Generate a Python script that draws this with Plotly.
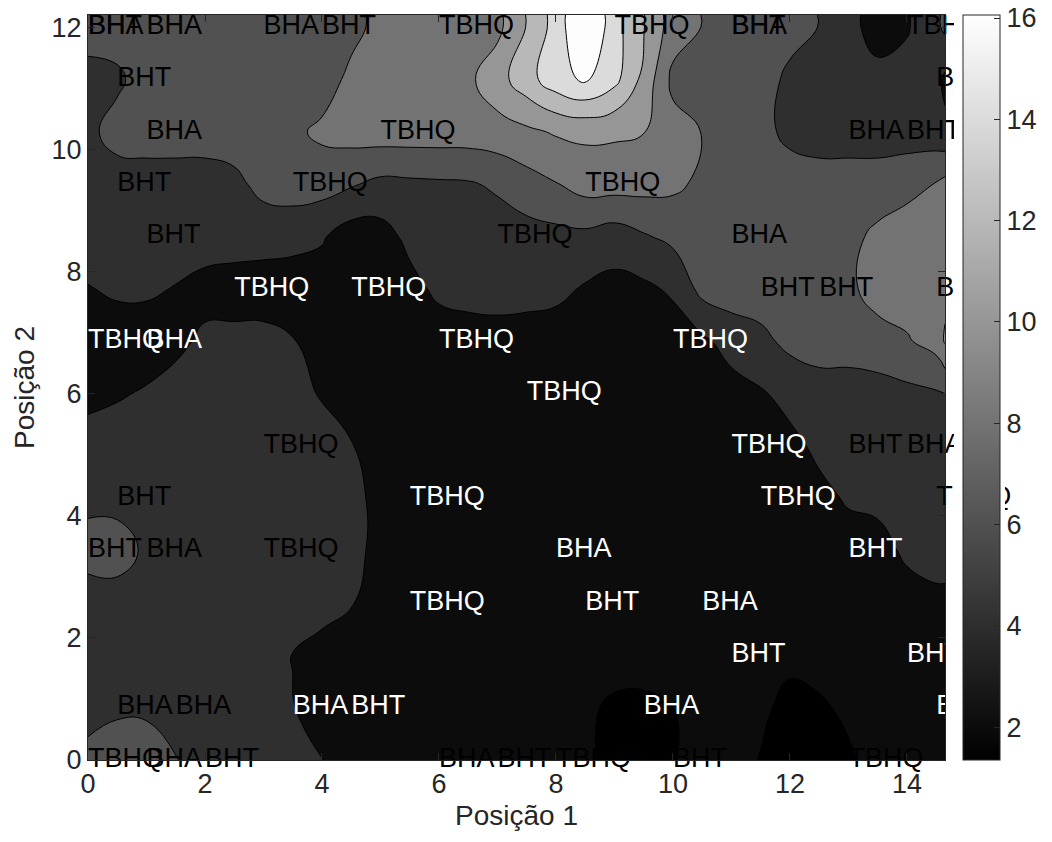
import plotly.graph_objects as go

# ---------------- data ----------------
x_pos = [0, 0.5, 1, 1.5, 2, 2.5, 3, 3.5, 4, 4.5, 5, 5.5, 6, 6.5, 7, 7.5,
         8, 8.5, 9, 9.5, 10, 10.5, 11, 11.5, 12, 12.5, 13, 13.5, 14, 14.5, 14.65]
y_pos = [0, 0.857, 1.714, 2.571, 3.429, 4.286, 5.143, 6.0, 6.857, 7.714,
         8.571, 9.429, 10.286, 11.143, 12.0, 12.2]

z_y0 = [6.8, 8.0, 7.8, 6.1, 5, 5, 5, 5, 4.05, 3, 3, 3, 3, 3, 3, 3, 3, 2.3, 1.5, 1.5, 1.9, 2.6, 2.8, 1.9, 1.5, 1.5, 1.7, 2.8, 3, 3, 3]
z_y1 = [5, 5.4, 5.4, 5, 5, 5, 5, 4.1, 3, 3, 3, 3, 3, 3, 3, 3, 3, 2.4, 1.6, 1.5, 2.0, 2.6, 3, 2.4, 1.4, 1.7, 2.4, 3, 3, 3, 3]
z_y2 = [5, 5, 5, 5, 5, 5, 4.9, 3.95, 3, 3, 3, 3, 3, 3, 3, 3, 3, 3, 3, 3, 3, 3, 3, 3, 2.5, 2.8, 3, 3, 3, 3, 3]
z_y3 = [5, 5, 5, 5, 5, 5, 5, 5, 5, 4.1, 3.2, 3, 3, 3, 3, 3, 3, 3, 3, 3, 3, 3, 3, 3, 3, 3, 3, 3.3, 3.3, 3.4, 3.4]
z_y4 = [6.8, 7.0, 5.6, 5, 5, 5, 5, 5, 5, 4.5, 3.5, 3, 3, 3, 3, 3, 3, 3, 3, 3, 3, 3, 3, 3, 3, 3, 3.2, 3.4, 4.3, 5, 5]
z_y5 = [5.5, 5.3, 5, 5, 5, 5, 5, 5, 5, 4.5, 3.5, 3, 3, 3, 3, 3, 3, 3, 3, 3, 3, 3, 3, 3, 3, 3.5, 4.2, 4.4, 5, 5, 5]
z_y6 = [4.6, 5, 5, 5, 5, 5, 5, 5, 5, 4.1, 3.2, 3, 3, 3, 3, 3, 3, 3, 3, 3, 3, 3, 3, 3, 3.5, 4.4, 5, 5, 5, 5, 5]
z_y7 = [3.6, 3.8, 4.2, 4.8, 5, 5, 5, 4.8, 3.8, 3, 3, 3, 3, 3, 3, 3, 3, 3, 3, 3, 3, 3, 3.2, 3.8, 4.6, 5, 5, 5.2, 5.5, 5.8, 6.0]
z_y8 = [3, 3, 3, 3.5, 4.4, 4.6, 4.6, 4.1, 3.2, 3, 3, 3, 3, 3, 3, 3, 3, 3, 3, 3, 3, 3.6, 4.8, 5.5, 6.5, 7, 7, 7.2, 7.8, 8.8, 10.2]
z_y9 = [3.9, 4.3, 4.3, 3.9, 3.3, 3, 3, 3, 3, 3, 3, 3.4, 4.4, 4.8, 5, 4.8, 4.5, 3.8, 3.4, 3.6, 4.3, 6.6, 7, 7, 7, 7, 7.6, 8.8, 9, 9, 9.6]
z_y10 = [5, 5, 5, 5, 5, 5, 4.8, 4.6, 4.2, 3.0, 3.2, 4.5, 5, 5, 5, 5.2, 5.4, 5.5, 5.0, 5.8, 6.5, 7, 7, 7, 7, 7, 7.5, 8.4, 9, 9, 9]
z_y11 = [5, 5, 5, 5, 5, 5.5, 6.6, 7, 6.8, 6.2, 5.5, 5.6, 5.7, 5.8, 6.3, 7.2, 7.9, 8.8, 8.8, 8.7, 8.4, 7.6, 7, 7, 7, 7, 7, 7, 7.4, 8.1, 8.6]
z_y12 = [5.5, 6.8, 7, 7, 7, 7, 7, 7.6, 8.4, 8.8, 9, 9, 9, 9, 9.2, 9.6, 10.2, 10.4, 10.3, 10.05, 8.8, 7.95, 7, 6.6, 5.5, 5, 5, 5, 5, 4.8, 4.4]
z_y13 = [5.2, 5.6, 7, 7, 7, 7, 7, 7, 7, 8.5, 9, 9, 9, 9.6, 11.2, 13.2, 15.2, 16.3, 14.6, 11.4, 7.5, 7, 7, 7, 5.5, 5, 5, 4.6, 4.8, 4.6, 3.6]
z_y14 = [7, 7, 7, 7, 7, 7, 7, 7, 7, 7.4, 8.6, 9, 9, 9.2, 9.5, 12.1, 14.8, 18.5, 14.8, 12.1, 9, 7.95, 7, 7, 6.8, 5.95, 4.6, 3.2, 3.8, 5.6, 6.4]
z_y15 = [7, 7, 7, 7, 7, 7, 7, 7, 7, 7.4, 8.6, 9, 9, 9.2, 9.5, 12.1, 14.8, 18.5, 14.8, 12.1, 9, 7.95, 7, 7, 6.8, 5.95, 4.6, 3.2, 3.8, 5.6, 6.4]

z_grid = [z_y0, z_y1, z_y2, z_y3, z_y4, z_y5, z_y6, z_y7, z_y8, z_y9,
          z_y10, z_y11, z_y12, z_y13, z_y14, z_y15]

# sample labels (x, y, name)
label_x = [0, 0, 1, 3, 4, 6, 9, 11, 11, 14,
           0.5, 14.5,
           1, 5, 13, 14,
           0.5, 3.5, 8.5,
           1, 7, 11,
           2.5, 4.5, 11.5, 12.5, 14.5,
           0, 1, 6, 10,
           7.5,
           3, 11, 13, 14,
           0.5, 5.5, 11.5, 14.5,
           0, 1, 3, 8, 13,
           5.5, 8.5, 10.5,
           11, 14,
           0.5, 1.5, 3.5, 4.5, 9.5, 14.5,
           0, 1, 2, 6, 7, 8, 10, 13]
label_y = [12.0] * 10 + [11.143] * 2 + [10.286] * 4 + [9.429] * 3 + [8.571] * 3 + \
          [7.714] * 5 + [6.857] * 4 + [6.0] + [5.143] * 4 + [4.286] * 4 + \
          [3.429] * 5 + [2.571] * 3 + [1.714] * 2 + [0.857] * 6 + [0] * 8
label_text = ["BHT", "BHA", "BHA", "BHA", "BHT", "TBHQ", "TBHQ", "BHA", "BHT", "TBHQ",
              "BHT", "BHT",
              "BHA", "TBHQ", "BHA", "BHT",
              "BHT", "TBHQ", "TBHQ",
              "BHT", "TBHQ", "BHA",
              "TBHQ", "TBHQ", "BHT", "BHT", "BHT",
              "TBHQ", "BHA", "TBHQ", "TBHQ",
              "TBHQ",
              "TBHQ", "TBHQ", "BHT", "BHA",
              "BHT", "TBHQ", "TBHQ", "TBHQ",
              "BHT", "BHA", "TBHQ", "BHA", "BHT",
              "TBHQ", "BHT", "BHA",
              "BHT", "BHT",
              "BHA", "BHA", "BHA", "BHT", "BHA", "BHA",
              "TBHQ", "BHA", "BHT", "BHA", "BHT", "TBHQ", "BHT", "TBHQ"]
B, W = "black", "white"
label_color = [B] * 10 + [B] * 2 + [B] * 4 + [B] * 3 + [B] * 3 + \
              [W, W, B, B, B] + [W] * 4 + [W] + [B, W, B, B] + [B, W, W, B] + \
              [B, B, B, W, W] + [W] * 3 + [W] * 2 + [B, B, W, W, W, W] + [B] * 8

level_start, level_end, level_step = 2, 16, 2
cbar_min, cbar_max = 1.35, 16.06
cbar_ticks = [2, 4, 6, 8, 10, 12, 14, 16]
x_ticks = [0, 2, 4, 6, 8, 10, 12, 14]
y_ticks = [0, 2, 4, 6, 8, 10, 12]

# ---------------- layout geometry (pixels) ----------------
W_FIG, H_FIG = 1052, 842
L, R, T, Bm = 88, 1052 - 945, 15, 842 - 760
plot_w = W_FIG - L - R

FONT = "Liberation Sans, Arial, Helvetica, sans-serif"
AX = "#262626"

band_colors = [0, 12, 47, 81, 115, 150, 184, 219, 253]
n = len(band_colors) - 1
fill_scale = [[i / n, f"rgb({g},{g},{g})"] for i, g in enumerate(band_colors)]

fig = go.Figure()
fig.add_trace(go.Contour(
    x=x_pos, y=y_pos, z=z_grid,
    autocontour=False,
    contours=dict(start=level_start, end=level_end, size=level_step,
                  coloring="fill", showlines=True),
    colorscale=fill_scale,
    line=dict(color="black", width=1, smoothing=1.3),
    showscale=False, hoverinfo="skip",
))
fig.add_trace(go.Scatter(
    x=label_x, y=label_y, text=label_text, mode="text",
    textposition="middle right",
    textfont=dict(size=27, color=label_color, family=FONT),
    cliponaxis=False, hoverinfo="skip", showlegend=False,
))
# colour bar (continuous gray map)
fig.add_trace(go.Scatter(
    x=[x_pos[0]], y=[y_pos[0]], mode="markers",
    marker=dict(size=1, opacity=0, color=[cbar_min],
                colorscale=[[0, "black"], [1, "white"]],
                cmin=cbar_min, cmax=cbar_max, showscale=True,
                colorbar=dict(
                    x=(963 - L) / plot_w, xanchor="left", xpad=0, ypad=0,
                    y=0.5, yanchor="middle", len=1, lenmode="fraction",
                    thickness=37, thicknessmode="pixels",
                    outlinecolor=AX, outlinewidth=1,
                    tickvals=cbar_ticks, ticks="inside", ticklen=6,
                    tickcolor=AX,
                    tickfont=dict(size=27, color=AX, family=FONT),
                )),
    hoverinfo="skip", showlegend=False,
))

fig.add_shape(type="rect", xref="paper", yref="paper",
              x0=(954 - L) / plot_w, x1=(1005 - L) / plot_w, y0=-0.06, y1=1.06,
              fillcolor="white", line=dict(width=0), layer="above")

axis_common = dict(showgrid=False, zeroline=False, showline=True, mirror="ticks",
                   linecolor=AX, linewidth=1, ticks="inside", ticklen=7,
                   tickcolor=AX, tickfont=dict(size=27, color=AX, family=FONT))
fig.update_xaxes(range=[0, 14.65], tickvals=x_ticks,
                 title=dict(text="Posição 1", font=dict(size=28, color=AX, family=FONT),
                            standoff=6),
                 **axis_common)
fig.update_yaxes(range=[0, 12.2], tickvals=y_ticks,
                 title=dict(text="Posição 2", font=dict(size=28, color=AX, family=FONT),
                            standoff=8),
                 **axis_common)
fig.update_layout(width=W_FIG, height=H_FIG,
                  margin=dict(l=L, r=R, t=T, b=Bm, autoexpand=False),
                  paper_bgcolor="white", plot_bgcolor="white",
                  font=dict(family=FONT, color=AX), showlegend=False)

fig.write_html("out.html")
